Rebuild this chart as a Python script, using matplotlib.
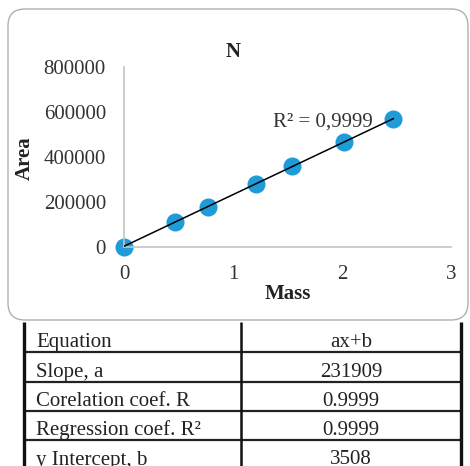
import numpy as np
import matplotlib
matplotlib.use("Agg")
import matplotlib.pyplot as plt
from matplotlib.patches import FancyBboxPatch

# calibration points
mass = [0.0, 0.47, 0.77, 1.21, 1.54, 2.02, 2.47]
area = [0, 113000, 180000, 282000, 360000, 466000, 568000]

x_ticks = [0, 1, 2, 3]
y_ticks = [0, 200000, 400000, 600000, 800000]

row_labels = ["Equation", "Slope, a", "Corelation coef. R",
              "Regression coef. R\u00b2", "y Intercept, b"]
row_values = ["ax+b", "231909", "0.9999", "0.9999", "3508"]

plt.rcParams['font.family'] = ['Liberation Serif', 'DejaVu Serif']
fs = 15
W, H = 470, 466

fig = plt.figure(figsize=(W / 100, H / 100), dpi=100)

# background layer in pixel coordinates (y measured from top)
bg = fig.add_axes([0, 0, 1, 1])
bg.set_xlim(0, W)
bg.set_ylim(H, 0)
bg.axis('off')

box = FancyBboxPatch((8, 9), 460, 311, boxstyle="round,pad=0,rounding_size=17",
                     fc='white', ec='#b0b0b0', lw=1.0)
bg.add_patch(box)

# table
top, row_h = 323, 29.3
x_left, x_mid, x_right = 24, 241, 461
for i, (lab, val) in enumerate(zip(row_labels, row_values)):
    y_bot = top + (i + 1) * row_h
    bg.text(36, y_bot - 5, lab, fontsize=fs, ha='left', va='baseline', color='#222222')
    bg.text((x_mid + x_right) / 2, y_bot - 5, val, fontsize=fs, ha='center',
            va='baseline', color='#222222')
    if i < len(row_labels) - 1:
        bg.plot([x_left, x_right], [y_bot, y_bot], color='#222222', lw=1.6,
                solid_capstyle='butt')
for xv in (x_left, x_mid, x_right):
    bg.plot([xv, xv], [top - 1, H], color='#111111',
            lw=2.4 if xv != x_mid else 1.8, solid_capstyle='butt')

# chart
ax = fig.add_axes([124 / W, 1 - 247 / H, (451 - 124) / W, (247 - 67) / H])
ax.set_xlim(0, 3)
ax.set_ylim(0, 800000)
ax.set_xticks(x_ticks)
ax.set_yticks(y_ticks)
ax.set_xticklabels([str(t) for t in x_ticks])
ax.set_yticklabels([str(t) for t in y_ticks])
ax.tick_params(length=0, labelsize=fs, colors='#333333', pad=13)
for s in ('top', 'right'):
    ax.spines[s].set_visible(False)
for s in ('left', 'bottom'):
    ax.spines[s].set_color('#c4c4c4')
    ax.spines[s].set_linewidth(1.2)
ax.patch.set_alpha(0)

slope, intercept = np.polyfit(mass, area, 1)
xs = np.array([0, max(mass)])
ax.plot(xs, slope * xs + intercept, color='black', lw=1.1, zorder=3)
ax.plot(mass, area, 'o', color='#1f9bd8', ms=13, mec='none', zorder=2, clip_on=False)
ax.text(2.28, 537000, "R\u00b2 = 0,9999", fontsize=fs, ha='right', va='baseline',
        color='#333333')

fig.text(233 / W, 1 - 52 / H, "N", fontsize=fs, fontweight='bold', ha='center',
         va='center', color='#222222')
fig.text(288 / W, 1 - 294 / H, "Mass", fontsize=fs, fontweight='bold', ha='center',
         va='center', color='#222222')
fig.text(25 / W, 1 - 158 / H, "Area", fontsize=fs, fontweight='bold', ha='center',
         va='center', rotation=90, color='#222222')

fig.savefig("out.png", dpi=100)
